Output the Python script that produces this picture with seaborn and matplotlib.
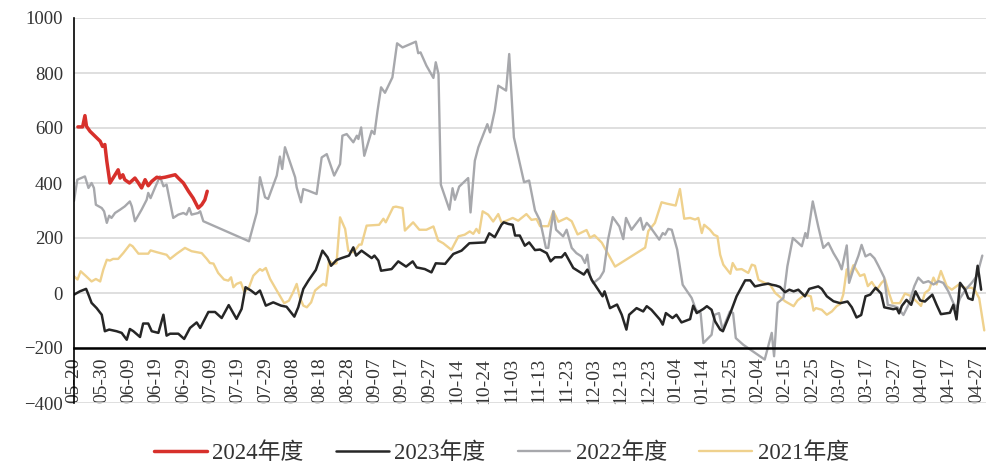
import numpy as np
import pandas as pd
import matplotlib
matplotlib.use('Agg')
import matplotlib.pyplot as plt
import seaborn as sns

# x 轴刻度（每 7 个交易日一个）
tick_labels = ['05-20', '05-30', '06-09', '06-19', '06-29', '07-09', '07-19', '07-29',
               '08-08', '08-18', '08-28', '09-07', '09-17', '09-27', '10-14', '10-24',
               '11-03', '11-13', '11-23', '12-03', '12-13', '12-23', '01-04', '01-14',
               '01-25', '02-04', '02-15', '02-25', '03-07', '03-17', '03-27', '04-07',
               '04-17', '04-27']

# (交易日序号, 数值)
s2024 = [(1, 604), (2.2, 604), (2.8, 645), (3.2, 606), (4.1, 588), (5.4, 570), (6.7, 552),
         (7.3, 533), (7.9, 540), (8.4, 479), (9.2, 400), (10, 418), (11.3, 448), (11.8, 418),
         (12.5, 430), (13, 412), (14.2, 400), (15.6, 418), (16.5, 400), (17.3, 382), (18.2, 412),
         (19, 390), (19.9, 406), (21.2, 421), (22, 418), (23.3, 421), (25.9, 430), (26.7, 418),
         (28, 400), (29.3, 370), (30.5, 345), (31.8, 309), (32.7, 321), (33.5, 339), (34.1, 370)]

s2023 = [(0, -6), (1.5, 6), (3.1, 15), (3.7, -6), (4.5, -36), (5.8, -55), (7.1, -79), (7.9, -139),
         (9, -133), (10.9, -139), (12.2, -145), (13.5, -170), (14.3, -131), (15.2, -139), (16.9, -160),
         (17.7, -111), (19, -111), (19.9, -139), (21.6, -145), (22.9, -79), (23.7, -155), (24.6, -148),
         (26.7, -148), (28.2, -167), (29.7, -127), (31.4, -107), (32.3, -127), (34.4, -69), (36.1, -69),
         (37.8, -91), (39.6, -44), (41.6, -94), (42.9, -58), (43.9, 21), (45.3, 9), (46.5, -4),
         (47.6, 9), (49.1, -46), (51, -34), (53, -46), (54.4, -50), (56.4, -86), (57.4, -52),
         (58.7, 15), (60, 45), (61.9, 84), (63.6, 154), (64.9, 130), (65.8, 99), (67.2, 120),
         (68.5, 127), (70.4, 136), (71.5, 166), (72.2, 136), (73.6, 154), (76.2, 127), (76.9, 136),
         (77.9, 118), (78.6, 81), (81.3, 87), (83, 115), (85, 96), (86.7, 115), (87.7, 93),
         (89.8, 87), (91.5, 75), (92.6, 108), (95, 106), (96.2, 127), (97.1, 142), (99.2, 154),
         (101.2, 181), (105.2, 184), (106.3, 217), (107.7, 203), (109.4, 248), (110, 257),
         (111.2, 251), (112.3, 248), (112.9, 209), (114.1, 209), (115.4, 172), (116.5, 184),
         (118, 156), (119.3, 158), (121, 145), (122, 115), (123.1, 130), (124.8, 130), (125.7, 145),
         (127.8, 91), (130.5, 67), (131.4, 85), (132.5, 48), (134.2, 12), (135.3, -12), (135.8, 6),
         (137.2, -55), (139, -42), (140.2, -79), (141.4, -133), (142.1, -79), (144, -55),
         (145.7, -67), (146.6, -48), (147.8, -61), (150, -97), (150.7, -115), (151.5, -73),
         (153.2, -91), (154.2, -79), (155.5, -107), (157.7, -95), (158.5, -46), (159.4, -73),
         (161.1, -58), (162, -48), (163.2, -61), (164.1, -103), (165.4, -133), (166.1, -139),
         (168, -73), (169.6, -12), (171.8, 46), (173.1, 46), (174.3, 24), (176.1, 30), (177.7, 34),
         (178.6, 30), (179.7, 27), (180.7, 22), (182, 3), (183.1, 12), (184.2, 6), (185.4, 12),
         (187.1, -12), (188.2, 15), (190.5, 24), (191.4, 15), (192.7, -12), (194.4, -30),
         (196.1, -37), (198, -31), (199.1, -52), (200.3, -89), (201.5, -80), (202.6, -12),
         (203.8, -6), (205.2, 19), (206.6, -2), (207.4, -52), (209.7, -59), (210.6, -56),
         (211.2, -74), (211.9, -47), (213.1, -25), (214.3, -43), (215.4, 6), (216.6, -27),
         (217.8, -31), (219.7, -6), (220.8, -43), (221.9, -77), (224.2, -72), (225.1, -43),
         (225.9, -96), (226.8, 37), (228.1, 12), (228.9, -19), (230, -25), (230.6, 25),
         (231.3, 99), (231.7, 62), (232.2, 12)]

s2022 = [(0, 335), (0.85, 412), (2.8, 424), (3.7, 382), (4.5, 400), (5.1, 382), (5.6, 321),
         (7.1, 309), (7.7, 297), (8.4, 255), (9, 281), (9.6, 273), (10.5, 291), (11.8, 303),
         (13, 315), (14.3, 333), (14.8, 315), (15.6, 261), (17.3, 303), (18.6, 339), (19, 364),
         (19.6, 345), (20.7, 382), (22, 424), (22.9, 388), (23.7, 394), (25.4, 273), (26.7, 285),
         (28, 291), (28.8, 285), (29.5, 309), (30.1, 285), (31.8, 291), (32.3, 297), (33.1, 261),
         (44.8, 188), (46.8, 293), (47.6, 421), (48.9, 348), (49.7, 342), (51.9, 427), (52.7, 496),
         (53.3, 451), (54, 530), (56.6, 421), (57, 384), (58.1, 330), (58.7, 378), (60, 372),
         (62.1, 360), (63.4, 493), (64.7, 505), (66.6, 427), (68.1, 469), (68.7, 572), (69.8, 578),
         (71.5, 548), (72.4, 572), (72.8, 560), (73.5, 602), (74.3, 499), (76.2, 590), (76.9, 578),
         (77.7, 663), (78.6, 748), (79.6, 728), (81.5, 784), (82.7, 908), (84.1, 893), (87.5, 914),
         (88.1, 872), (88.7, 875), (90.2, 827), (92, 782), (92.6, 839), (93.3, 796), (93.9, 394),
         (96.1, 303), (96.9, 381), (97.5, 339), (98.6, 387), (100.9, 418), (101.5, 293),
         (102.6, 481), (103.5, 530), (105.8, 614), (106.5, 584), (107.7, 663), (108.6, 754),
         (110.6, 736), (111.4, 869), (112.6, 566), (115.2, 403), (116.5, 409), (118, 300),
         (119.3, 263), (120.8, 164), (121.4, 164), (122.7, 297), (123.4, 230), (125.2, 206),
         (126.1, 230), (127.4, 164), (128.6, 145), (129.9, 133), (130.8, 109), (131.4, 139),
         (132.1, 61), (132.9, 36), (134.6, 55), (135.6, 79), (136.7, 194), (137.9, 276),
         (139.6, 242), (140.6, 196), (141.3, 273), (142.7, 230), (145, 273), (145.7, 230),
         (146.6, 255), (147.4, 242), (149.8, 194), (150.7, 218), (151.3, 212), (152.1, 233),
         (153, 230), (154.4, 158), (155.8, 30), (158.1, -18), (159.2, -61), (160.4, -73),
         (161.1, -182), (163.2, -152), (164, -79), (165.1, -73), (166, -133), (167.9, -67),
         (168.7, -73), (169.4, -164), (171.3, -188), (176.8, -242), (178.6, -145), (179.2, -230),
         (180.1, -36), (181.6, -18), (182.6, 97), (184, 200), (186.3, 170), (187.2, 218),
         (187.7, 200), (189.1, 333), (190.5, 242), (191.8, 164), (193.1, 182), (194.4, 145),
         (195.7, 114), (196.5, 86), (197.8, 173), (198.4, 37), (199.5, 86), (200.8, 136),
         (201.6, 175), (202.6, 133), (203.8, 142), (204.9, 126), (205.9, 99), (207.4, 56),
         (208.3, -43), (209.7, -47), (210.8, -52), (212.3, -80), (213.6, -43), (215.1, 25),
         (216.1, 56), (217.4, 37), (218.7, 43), (220, 31), (221.3, 43), (222.5, 37), (223.8, 6),
         (225.1, -37), (225.9, -56), (226.8, -19), (228.2, 12), (229.8, 37), (231.1, 62),
         (232.5, 136)]

s2021 = [(0, 61), (0.9, 49), (1.7, 79), (3.1, 61), (4.5, 42), (5.6, 51), (6.7, 42), (7.5, 85),
         (8.4, 121), (9.2, 118), (10, 124), (11.3, 124), (12.6, 145), (14.3, 176), (15, 170),
         (16.5, 143), (19, 143), (19.6, 155), (21.3, 148), (23.7, 139), (24.6, 124), (26.3, 143),
         (28.4, 164), (30.1, 152), (32.7, 145), (34, 124), (34.8, 109), (35.7, 107), (36.9, 73),
         (38.4, 49), (39.5, 45), (40.2, 57), (40.8, 21), (41.6, 33), (42.7, 39), (43.6, 3),
         (44.8, 21), (45.9, 63), (47.6, 87), (48.2, 81), (49.1, 91), (50.2, 51), (51.9, 9),
         (53.2, -22), (53.8, -37), (55, -28), (56.1, 3), (57, 33), (57.8, -16), (58.7, -46),
         (59.6, -52), (60.7, -34), (61.7, 9), (62.7, 21), (63.8, 33), (64.5, 27), (65.3, 118),
         (66.4, 105), (67.2, 108), (68.1, 275), (69.4, 233), (70.2, 154), (71.5, 148), (72.4, 164),
         (73, 176), (73.6, 176), (74.9, 245), (78.1, 248), (79.2, 270), (79.8, 257), (81.7, 312),
         (82.4, 314), (84.1, 309), (84.7, 227), (86.8, 257), (88.4, 230), (90.2, 230), (92, 242),
         (93.2, 191), (94.5, 181), (96.6, 157), (98.4, 206), (99.2, 209), (100, 212), (101.3, 224),
         (102.2, 215), (103, 233), (103.7, 218), (104.6, 297), (106, 285), (107.3, 260),
         (108.6, 287), (109.4, 257), (110.7, 263), (112.3, 273), (113.7, 263), (115.8, 287),
         (117.1, 266), (118.4, 269), (119.3, 243), (121.4, 243), (122.7, 298), (124, 259),
         (126.1, 273), (127.4, 261), (128.9, 213), (131.2, 229), (132.1, 201), (133.2, 210),
         (135.1, 183), (138.5, 96), (146.2, 165), (147, 225), (148.7, 255), (150.4, 330),
         (151.7, 325), (154, 318), (155.1, 378), (156.2, 270), (157.7, 273), (159, 267),
         (159.8, 273), (160.7, 218), (161.3, 248), (162.8, 230), (163.8, 212), (164.7, 206),
         (165.4, 139), (166.2, 103), (168, 70), (168.6, 109), (169.6, 85), (170.9, 87),
         (172.6, 73), (173.5, 103), (174.3, 99), (175.2, 48), (176.9, 36), (178.2, 30),
         (179.5, 0), (182, -30), (184.2, -48), (185.2, -27), (187.1, -6), (188.6, -12),
         (189.3, -64), (189.9, -55), (191.4, -61), (192.7, -79), (194, -67), (195.2, -48),
         (196.1, -40), (196.9, -6), (197.8, 86), (198.4, 56), (199.5, 101), (201.2, 62),
         (202.3, 68), (203.2, 25), (204.2, 40), (205.5, 12), (206.7, 37), (207.6, 49),
         (208.6, 0), (209.5, -37), (211.4, -37), (212.7, -2), (214, -10), (215.7, -31),
         (216.8, -47), (217.8, 0), (218.9, 12), (220, 56), (220.8, 31), (221.9, 80),
         (223.4, 25), (224.7, 12), (226.5, 31), (227.9, 19), (229.8, 19), (230.6, 10),
         (231.7, -19), (232.3, -74), (233, -136)]

sns.set_style('white')
plt.rcParams['font.family'] = ['Liberation Serif', 'Noto Sans CJK SC']
plt.rcParams['axes.unicode_minus'] = True

fig = plt.figure(figsize=(9.87, 4.67), dpi=100)
ax = fig.add_axes([74 / 987, 64 / 467, 913 / 987, 385 / 467])

# 绘制顺序：2021 在最下，2024 在最上
series = [('2021年度', s2021, '#efd18d', 1.7),
          ('2022年度', s2022, '#a7a8ac', 1.7),
          ('2023年度', s2023, '#262626', 1.8),
          ('2024年度', s2024, '#d7302b', 2.5)]

for name, data, color, lw in series:
    df = pd.DataFrame(data, columns=['t', 'v'])
    sns.lineplot(data=df, x='t', y='v', ax=ax, color=color, lw=lw,
                 label=name, estimator=None, sort=False)

# 先移动坐标轴（会重置刻度），再设置刻度
for s in ['top', 'right']:
    ax.spines[s].set_visible(False)
ax.spines['bottom'].set_position(('data', -200))
ax.spines['bottom'].set_linewidth(1.8)
ax.spines['bottom'].set_color('black')
ax.spines['left'].set_linewidth(1.2)
ax.spines['left'].set_color('black')

ax.set_ylim(-400, 1000)
ax.set_yticks(range(-400, 1001, 200))
ax.set_xlim(0, 233.7)
ax.set_xticks(np.arange(len(tick_labels)) * 7)
ax.set_xticklabels(tick_labels)
ax.set_xlabel('')
ax.set_ylabel('')

ax.grid(axis='y', color='#d9d9d9', lw=1.2)
ax.grid(axis='x', visible=False)
ax.set_axisbelow(True)

ax.tick_params(axis='both', direction='out', length=5, width=1.2, color='black',
               labelcolor='#333333', pad=3)
ax.tick_params(axis='y', labelsize=13.5)
ax.tick_params(axis='x', pad=2, labelrotation=90, labelsize=14)

handles, labels = ax.get_legend_handles_labels()
ax.get_legend().remove()
order = [3, 2, 1, 0]
fig.legend([handles[i] for i in order], [labels[i] for i in order],
           loc='center', bbox_to_anchor=(0.508, 0.03), ncol=4, frameon=False,
           fontsize=16.5, handlelength=2.3, columnspacing=1.4, handletextpad=0.25,
           labelcolor='#333333')

fig.savefig('out.png', dpi=100)
